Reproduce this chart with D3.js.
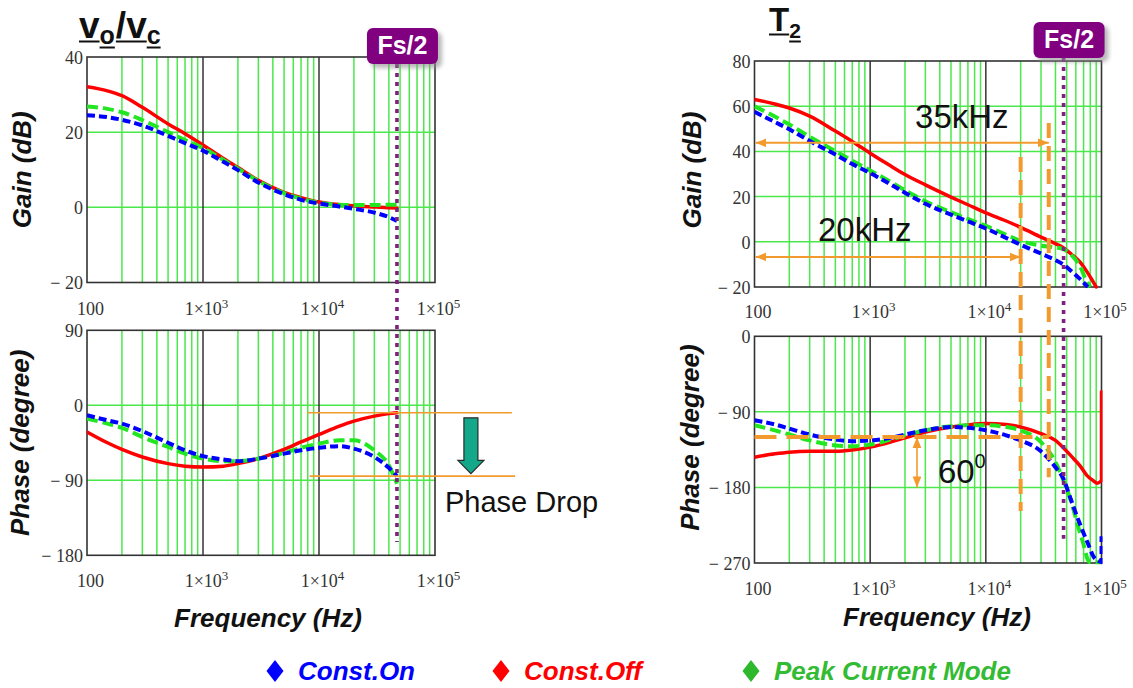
<!DOCTYPE html>
<html><head><meta charset="utf-8">
<script src="https://cdn.jsdelivr.net/npm/d3@7"></script>
<style>body{margin:0;background:#fff;} svg{display:block;}</style>
</head><body>
<svg id="c" width="1133" height="688"></svg>
<script>
// ================= DATA =================
const fsHalf = 47000;
const xTickVals = [100, 1000, 10000, 100000];
const gainLTicks = [-20, 0, 20, 40];
const phaseLTicks = [-180, -90, 0, 90];
const gainRTicks = [-20, 0, 20, 40, 60, 80];
const phaseRTicks = [-270, -180, -90, 0];

// Left: vo/vc
const freqL      = [100,150,200,300,500,700,1000,1500,2000,3000,5000,7000,10000,15000,20000,30000,40000,47000];
const gainL_on   = [24.5,24.0,23.3,21.8,19.0,17.1,15.1,12.1,9.9,6.6,3.5,2.0,1.0,0.2,-0.4,-1.4,-2.6,-3.6];
const gainL_off  = [32.1,31.0,29.7,26.6,22.2,19.6,16.6,13.0,10.6,7.2,4.0,2.6,1.4,0.7,0.4,0.1,-0.1,-0.2];
const gainL_pcm  = [26.8,26.2,25.3,23.2,20.0,17.9,15.8,12.6,10.3,7.0,3.8,2.3,1.2,0.7,0.6,0.6,0.7,0.7];
const phaseL_on  = [-12,-18,-22,-31,-45,-54,-61,-65,-67,-64,-58,-54,-51,-49,-52,-62,-75,-85];
const phaseL_off = [-32,-45,-53,-62,-70,-73,-74,-73,-70,-64,-53,-44,-35,-25,-19,-13,-10,-9];
const phaseL_pcm = [-16,-22,-27,-38,-50,-58,-64,-67,-67,-64,-57,-51,-46,-42,-42,-54,-72,-94];

// Right: T2 gain
const freqRG_on  = [100,150,200,300,500,700,1000,1500,2000,3000,5000,7000,10000,15000,20000,30000,40000,47000,55000,65000,76000];
const gainR_on   = [57.5,53.0,49.8,44.6,38.6,34.4,30.4,25.4,21.7,16.8,12.0,9.0,5.9,1.7,-1.3,-5.2,-8.1,-10.1,-13.0,-16.4,-20];
const freqRG_off = [100,150,200,300,500,700,1000,1500,2000,3000,5000,7000,10000,15000,20000,30000,40000,47000,55000,65000,75000,85000,90000];
const gainR_off  = [63.0,61.0,59.2,55.6,49.0,44.4,39.2,33.6,29.8,25.2,19.8,16.4,12.8,9.2,6.4,2.1,-0.8,-2.7,-5.5,-8.9,-13.3,-17.8,-20];
const freqRG_pcm = [100,150,200,300,500,700,1000,1500,2000,3000,5000,7000,10000,15000,20000,30000,40000,47000,55000,65000,75000,80000];
const gainR_pcm  = [60.0,55.4,51.9,46.5,40.1,35.9,31.6,26.5,22.8,17.9,13.1,10.1,7.0,3.1,0.4,-1.7,-2.5,-3.3,-5.9,-10.7,-17.8,-20];

// Right: T2 phase
const freqRP_on  = [100,150,200,300,500,700,1000,1500,2000,3000,5000,7000,10000,15000,20000,30000,40000,47000,53000,59000,67000,77000,85000,95000,100000,100000];
const phaseR_on  = [-100,-105,-110,-117,-123,-125,-124,-121,-117,-112,-108,-109,-112,-118,-124,-137,-156,-170,-190,-208,-228,-248,-262,-268,-269,-238];
const freqRP_off = [100,150,200,300,500,700,1000,1500,2000,3000,5000,7000,10000,15000,20000,30000,40000,47000,55000,65000,75000,85000,92000,100000,100000];
const phaseR_off = [-144,-140,-138,-137,-137,-135.5,-132,-126,-121,-114,-108,-105.5,-104,-105,-108,-116,-124,-133,-143,-154,-166,-172,-175,-172,-66];
const freqRP_pcm = [100,150,200,300,500,700,1000,1500,2000,3000,5000,7000,10000,15000,20000,30000,40000,47000,55000,62000,70000,76000,80000,100000];
const phaseR_pcm = [-106,-112,-117,-124,-130,-131,-129,-123,-118,-112,-107,-106,-106,-108,-112,-126,-150,-172,-198,-224,-248,-266,-269,-269];

const legendNames = ["Const.On", "Const.Off", "Peak Current Mode"];

// ================= STYLE =================
const BLUE = "#0000FF", RED = "#FF0000", GREEN = "#22E622", GREEN_TXT = "#33BB33";
const GRID = "#4BE84B", DARK = "#333333", ORANGE = "#F39A2E", PURPLE = "#800080";
const SANS = "'Liberation Sans', Arial, sans-serif";
const SERIF = "'Liberation Serif', 'Times New Roman', serif";
const styles = {
  on:  {stroke: BLUE,  width: 4,   dash: "8,4"},
  off: {stroke: RED,   width: 3.5, dash: null},
  pcm: {stroke: GREEN, width: 4,   dash: "11,5"}
};

const svg = d3.select("#c");
const defs = svg.append("defs");
defs.append("filter").attr("id", "blur").attr("x", "-30%").attr("y", "-30%").attr("width", "160%").attr("height", "160%")
  .append("feGaussianBlur").attr("stdDeviation", 2);
defs.append("marker").attr("id", "arr").attr("viewBox", "0 0 10 8").attr("refX", 10).attr("refY", 4)
  .attr("markerWidth", 11).attr("markerHeight", 9).attr("markerUnits", "userSpaceOnUse")
  .attr("orient", "auto-start-reverse")
  .append("path").attr("d", "M0,0 L10,4 L0,8 Z").attr("fill", ORANGE);

const fmtY = v => v < 0 ? "\u2212 " + Math.abs(v) : String(v);
let clipId = 0;

function makePanel(cfg) {
  const g = svg.append("g");
  const xs = d3.scaleLog().domain([100, 1e5]).range([cfg.x0, cfg.x1]);
  const ys = d3.scaleLinear().domain(cfg.yDomain).range([cfg.yTop, cfg.yBot]);
  const minors = [];
  for (const k of [100, 1000, 10000]) for (let d = 2; d <= 9; d++) minors.push(d * k);
  g.selectAll(null).data(minors).join("line")
    .attr("x1", d => xs(d)).attr("x2", d => xs(d)).attr("y1", cfg.yTop).attr("y2", cfg.yBot)
    .attr("stroke", GRID).attr("stroke-width", 1.5);
  const inner = cfg.yTicks.filter(v => v !== cfg.yDomain[0] && v !== cfg.yDomain[1]);
  g.selectAll(null).data(inner).join("line")
    .attr("x1", cfg.x0).attr("x2", cfg.x1).attr("y1", d => ys(d)).attr("y2", d => ys(d))
    .attr("stroke", GRID).attr("stroke-width", 1.5);
  g.selectAll(null).data([1000, 10000]).join("line")
    .attr("x1", d => xs(d)).attr("x2", d => xs(d)).attr("y1", cfg.yTop).attr("y2", cfg.yBot)
    .attr("stroke", DARK).attr("stroke-width", 1.5);
  g.append("rect").attr("x", cfg.x0).attr("y", cfg.yTop).attr("width", cfg.x1 - cfg.x0).attr("height", cfg.yBot - cfg.yTop)
    .attr("fill", "none").attr("stroke", DARK).attr("stroke-width", 1.6);

  // x axis labels
  const ax = g.append("g").attr("transform", `translate(0,${cfg.yBot})`)
    .call(d3.axisBottom(xs).tickValues(xTickVals).tickSize(0).tickFormat(d => d === 100 ? "100" : "1\u00d710"));
  ax.select(".domain").remove();
  ax.attr("font-family", SERIF).attr("font-size", 18);
  ax.selectAll(".tick text").attr("y", cfg.xLabOff).attr("dy", null).attr("x", 3).attr("fill", DARK)
    .each(function (d) {
      if (d !== 100) d3.select(this).append("tspan").attr("dy", -7).attr("font-size", 13).text(Math.round(Math.log10(d)));
    });
  // y axis labels
  const ay = g.append("g").attr("transform", `translate(${cfg.x0},0)`)
    .call(d3.axisLeft(ys).tickValues(cfg.yTicks).tickSize(0).tickPadding(4).tickFormat(fmtY));
  ay.select(".domain").remove();
  ay.attr("font-family", SERIF).attr("font-size", 18);
  ay.selectAll(".tick text").attr("fill", DARK).attr("dy", "0.36em");

  // y axis title
  g.append("text").attr("transform", `translate(${cfg.titleX},${(cfg.yTop + cfg.yBot) / 2 + cfg.titleDy}) rotate(-90)`)
    .attr("text-anchor", "middle").attr("font-family", SANS).attr("font-weight", "bold").attr("font-style", "italic")
    .attr("font-size", 26).attr("fill", "#111").text(cfg.title);
  // x axis title
  if (cfg.xTitle) {
    g.append("text").attr("x", cfg.xTitleX).attr("y", cfg.yBot + cfg.xTitleOff).attr("text-anchor", "middle")
      .attr("font-family", SANS).attr("font-weight", "bold").attr("font-style", "italic")
      .attr("font-size", 26).attr("fill", "#111").text(cfg.xTitle);
  }

  const id = "clip" + (clipId++);
  defs.append("clipPath").attr("id", id).append("rect")
    .attr("x", cfg.x0).attr("y", cfg.yTop - 2).attr("width", cfg.x1 - cfg.x0 + 1).attr("height", cfg.yBot - cfg.yTop + 4);
  const curves = g.append("g").attr("clip-path", `url(#${id})`);
  return {xs, ys, g, curves, cfg};
}

function drawCurve(p, fArr, vArr, st) {
  const pts = fArr.map((f, i) => ({f, v: vArr[i]}));
  // smooth part up to first repeated frequency, then straight segments
  let cut = pts.length;
  for (let i = 1; i < pts.length; i++) if (pts[i].f === pts[i - 1].f) { cut = i; break; }
  const smooth = d3.line().x(d => p.xs(d.f)).y(d => p.ys(d.v)).curve(d3.curveMonotoneX);
  const straight = d3.line().x(d => p.xs(d.f)).y(d => p.ys(d.v));
  let d = smooth(pts.slice(0, cut));
  if (cut < pts.length) d += straight(pts.slice(cut - 1)).replace(/^M[^L]*/, "");
  p.curves.append("path").attr("d", d).attr("fill", "none")
    .attr("stroke", st.stroke).attr("stroke-width", st.width)
    .attr("stroke-dasharray", st.dash).attr("stroke-linejoin", "round").attr("stroke-linecap", st.dash ? "butt" : "round");
}

const Lg = makePanel({x0: 87, x1: 435, yTop: 57, yBot: 282.5, yDomain: [40, -20], yTicks: gainLTicks, xLabOff: 32, title: "Gain (dB)", titleX: 31, titleDy: 0});
const Lp = makePanel({x0: 87, x1: 435, yTop: 330.3, yBot: 555.3, yDomain: [90, -180], yTicks: phaseLTicks, xLabOff: 32, title: "Phase (degree)", titleX: 29, titleDy: 0,
  xTitle: "Frequency (Hz)", xTitleX: 268, xTitleOff: 72});
const Rg = makePanel({x0: 754.5, x1: 1101.5, yTop: 61, yBot: 287, yDomain: [80, -20], yTicks: gainRTicks, xLabOff: 31, title: "Gain (dB)", titleX: 701, titleDy: -4});
const Rp = makePanel({x0: 754.5, x1: 1101.5, yTop: 336.3, yBot: 563, yDomain: [0, -270], yTicks: phaseRTicks, xLabOff: 32, title: "Phase (degree)", titleX: 699, titleDy: -12,
  xTitle: "Frequency (Hz)", xTitleX: 937, xTitleOff: 63});

// curves
drawCurve(Lg, freqL, gainL_off, styles.off);
drawCurve(Lg, freqL, gainL_pcm, styles.pcm);
drawCurve(Lg, freqL, gainL_on, styles.on);
drawCurve(Lp, freqL, phaseL_off, styles.off);
drawCurve(Lp, freqL, phaseL_pcm, styles.pcm);
drawCurve(Lp, freqL, phaseL_on, styles.on);
drawCurve(Rg, freqRG_off, gainR_off, styles.off);
drawCurve(Rg, freqRG_pcm, gainR_pcm, styles.pcm);
drawCurve(Rg, freqRG_on, gainR_on, styles.on);
drawCurve(Rp, freqRP_off, phaseR_off, styles.off);
drawCurve(Rp, freqRP_pcm, phaseR_pcm, styles.pcm);
drawCurve(Rp, freqRP_on, phaseR_on, styles.on);

// ---------- annotations: left ----------
const ann = svg.append("g");
[[7900, -9, 460000], [8300, -85, 490000]].forEach(([fa, ph, fb]) => {
  ann.append("line").attr("x1", Lp.xs(fa)).attr("x2", Lp.xs(fb)).attr("y1", Lp.ys(ph)).attr("y2", Lp.ys(ph))
    .attr("stroke", ORANGE).attr("stroke-width", 1.6);
});
{
  const cx = Lp.xs(204000), yt = Lp.ys(-15), yb = Lp.ys(-66), tip = Lp.ys(-82);
  ann.append("path")
    .attr("d", `M${cx - 7},${yt} L${cx + 7},${yt} L${cx + 7},${yb} L${cx + 13},${yb} L${cx},${tip} L${cx - 13},${yb} L${cx - 7},${yb} Z`)
    .attr("fill", "#14A88A").attr("stroke", "#2a2a2a").attr("stroke-width", 1.2);
  ann.append("text").attr("x", Lp.xs(122000)).attr("y", Lp.ys(-128)).attr("font-family", SANS)
    .attr("font-size", 29).attr("fill", "#111").text("Phase Drop");
}

// ---------- annotations: right ----------
const f20 = 20000, f35 = 35000;
ann.append("line").attr("x1", Rg.xs(102)).attr("x2", Rg.xs(f35)).attr("y1", Rg.ys(43.8)).attr("y2", Rg.ys(43.8))
  .attr("stroke", ORANGE).attr("stroke-width", 2).attr("marker-start", "url(#arr)").attr("marker-end", "url(#arr)");
ann.append("line").attr("x1", Rg.xs(102)).attr("x2", Rg.xs(f20)).attr("y1", Rg.ys(-6.7)).attr("y2", Rg.ys(-6.7))
  .attr("stroke", ORANGE).attr("stroke-width", 2).attr("marker-start", "url(#arr)").attr("marker-end", "url(#arr)");
ann.append("text").attr("x", Rg.xs(2445)).attr("y", Rg.ys(50.4)).attr("font-family", SANS).attr("font-size", 33)
  .attr("fill", "#111").text("35kHz");
ann.append("text").attr("x", Rg.xs(354)).attr("y", Rg.ys(0.35)).attr("font-family", SANS).attr("font-size", 33)
  .attr("fill", "#111").text("20kHz");
ann.append("line").attr("x1", Rg.xs(f35)).attr("x2", Rg.xs(f35)).attr("y1", Rg.ys(52.6)).attr("y2", Rp.ys(-168))
  .attr("stroke", ORANGE).attr("stroke-width", 4).attr("stroke-dasharray", "15,8");
ann.append("line").attr("x1", Rg.xs(f20)).attr("x2", Rg.xs(f20)).attr("y1", Rg.ys(37.5)).attr("y2", Rp.ys(-208))
  .attr("stroke", ORANGE).attr("stroke-width", 4).attr("stroke-dasharray", "15,8");
ann.append("line").attr("x1", Rp.xs(100)).attr("x2", Rp.xs(f35)).attr("y1", Rp.ys(-120)).attr("y2", Rp.ys(-120))
  .attr("stroke", ORANGE).attr("stroke-width", 4).attr("stroke-dasharray", "22,10");
ann.append("line").attr("x1", Rp.xs(2540)).attr("x2", Rp.xs(2540)).attr("y1", Rp.ys(-120)).attr("y2", Rp.ys(-180))
  .attr("stroke", ORANGE).attr("stroke-width", 1.6).attr("marker-start", "url(#arr)").attr("marker-end", "url(#arr)");
{
  const t = ann.append("text").attr("x", Rp.xs(3850)).attr("y", Rp.ys(-175)).attr("font-family", SANS)
    .attr("font-size", 33).attr("fill", "#111");
  t.append("tspan").text("60");
  t.append("tspan").attr("dy", -15).attr("font-size", 20).text("0");
}

// ---------- Fs/2 markers ----------
function fsMarker(p, yStart, yEnd, badgeTop) {
  const x = p.xs(fsHalf);
  svg.append("line").attr("x1", x).attr("x2", x).attr("y1", yStart).attr("y2", yEnd)
    .attr("stroke", "#7F1F7F").attr("stroke-width", 3.6).attr("stroke-dasharray", "4,5");
  const bx = x - 30, w = 71, h = 36;
  svg.append("rect").attr("x", bx + 4).attr("y", badgeTop + 4).attr("width", w).attr("height", h).attr("rx", 6)
    .attr("fill", "#8a8a8a").attr("opacity", 0.6).attr("filter", "url(#blur)");
  svg.append("rect").attr("x", bx).attr("y", badgeTop).attr("width", w).attr("height", h).attr("rx", 6).attr("fill", PURPLE);
  svg.append("text").attr("x", bx + w / 2).attr("y", badgeTop + 26).attr("text-anchor", "middle")
    .attr("font-family", SANS).attr("font-weight", "bold").attr("font-size", 25).attr("fill", "#fff").text("Fs/2");
}
fsMarker(Lg, 64, Lp.ys(-164), 28);
fsMarker(Rg, 58, Rp.ys(-241), 22);

// ---------- titles ----------
function title(x, yBase, pieces, big, small, subDy) {
  let cx = x;
  for (const p of pieces) {
    const yb = p.sub ? yBase + subDy : yBase;
    const t = svg.append("text").attr("x", cx).attr("y", yb).attr("font-family", SANS).attr("font-weight", "bold")
      .attr("font-size", p.sub ? small : big).attr("fill", "#111").text(p.t);
    const w = t.node().getComputedTextLength();
    svg.append("line").attr("x1", cx).attr("x2", cx + w).attr("y1", yb + 3.5).attr("y2", yb + 3.5)
      .attr("stroke", "#111").attr("stroke-width", 2);
    cx += w + (p.sub ? 1 : 0);
  }
}
title(79, 38, [{t: "v"}, {t: "o", sub: true}, {t: "/v"}, {t: "c", sub: true}], 37, 25, 6);
title(769, 31, [{t: "T"}, {t: "2", sub: true}], 33, 21, 7);

// ---------- legend ----------
const legColors = [BLUE, RED, "#2DB82D"];
const legTextColors = [BLUE, RED, GREEN_TXT];
const legX = [275, 501, 751];
const lg = svg.append("g");
legendNames.forEach((name, i) => {
  lg.append("path").attr("d", "M0,-11 L8.5,0 L0,11 L-8.5,0 Z")
    .attr("transform", `translate(${legX[i]},671)`).attr("fill", legColors[i]);
  lg.append("text").attr("x", legX[i] + 23).attr("y", 680).attr("font-family", SANS).attr("font-weight", "bold")
    .attr("font-style", "italic").attr("font-size", 26).attr("fill", legTextColors[i]).text(name);
});
</script>
</body></html>
